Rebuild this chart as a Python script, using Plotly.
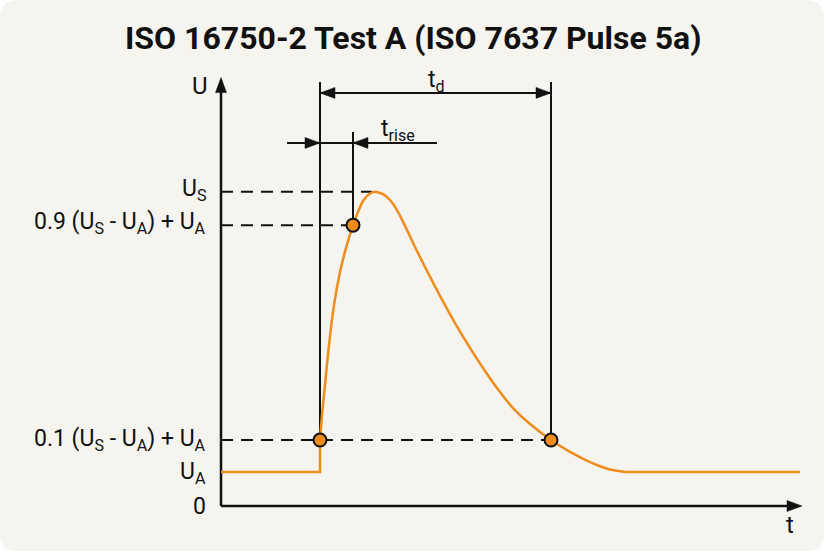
import plotly.graph_objects as go

# ---------------- data (schematic units: t arbitrary, U arbitrary) ----------------
U_ZERO = 0.0
U_A = 1.0
U_10 = 1.94          # 0.1 (U_S - U_A) + U_A
U_90 = 8.26          # 0.9 (U_S - U_A) + U_A
U_S = 9.24
T_START = 9.9        # pulse start (10 % point)
T_90 = 13.2          # 90 % point on rising edge
T_PEAK = 15.4
T_END = 33.0         # 10 % point on falling edge
T_SETTLE = 40.4
T_MAX = 57.9
U_MAX = 12.6

base_left_t = [0.0, 9.9, 9.9]
base_left_u = [1.0, 1.0, 1.94]

pulse_t = [9.9, 10.1, 10.4, 10.8, 11.3, 11.9, 12.5, 13.2, 13.7, 14.2, 14.8, 15.4,
           16.2, 16.9, 17.7, 18.5, 19.4, 20.4, 21.9, 23.4, 24.9, 26.4, 27.9, 29.2,
           30.9, 33.0, 34.9, 36.9, 38.7, 40.4]
pulse_u = [1.94, 2.68, 3.56, 4.74, 5.91, 6.88, 7.59, 8.26, 8.65, 8.97, 9.17, 9.24,
           9.17, 9.0, 8.65, 8.18, 7.62, 7.03, 6.18, 5.38, 4.65, 3.97, 3.35, 2.88,
           2.41, 1.94, 1.59, 1.29, 1.09, 1.0]

base_right_t = [40.4, 57.9]
base_right_u = [1.0, 1.0]

marker_t = [T_START, T_90, T_END]
marker_u = [U_10, U_90, U_10]

level_values = [U_S, U_90, U_10, U_A, U_ZERO]
level_labels = ["U<sub>S</sub>",
                "0.9 (U<sub>S</sub> - U<sub>A</sub>) + U<sub>A</sub>",
                "0.1 (U<sub>S</sub> - U<sub>A</sub>) + U<sub>A</sub>",
                "U<sub>A</sub>",
                "0"]
dashed_levels = [U_S, U_90, U_10]
dashed_ends = [15.1, T_90, T_END]

TD_LEVEL = 12.15
TRISE_LEVEL = 10.68
TRISE_LEFT = 6.6
TRISE_RIGHT = 21.6
VLINE_TOP_OUTER = 12.47
VLINE_TOP_RISE = 11.0

TITLE = "ISO 16750-2 Test A (ISO 7637 Pulse 5a)"

# ---------------- layout helpers ----------------
W, H = 826, 553
PX_T = 10.0   # pixels per t unit
PX_U = 34.0   # pixels per U unit
X0, Y0 = 221, 506
x_range = [-X0 / PX_T, (W - X0) / PX_T]
y_range = [-(H - Y0) / PX_U, Y0 / PX_U]

ORANGE = "#EE8C1C"
BLACK = "#111111"
CARD = "#F6F4EF"
FONT = "Roboto"

fig = go.Figure()


def line(ts, us, width=2.0, dash=None, color=BLACK):
    fig.add_trace(go.Scatter(x=ts, y=us, mode="lines",
                             line=dict(color=color, width=width, dash=dash),
                             hoverinfo="skip", showlegend=False))


def head(t, u, d, L=15, Wd=11):
    lt, wu = L / PX_T, Wd / 2 / PX_U
    lu, wt = L / PX_U, Wd / 2 / PX_T
    if d == "right":
        xs, ys = [t, t - lt, t - lt, t], [u, u + wu, u - wu, u]
    elif d == "left":
        xs, ys = [t, t + lt, t + lt, t], [u, u + wu, u - wu, u]
    else:  # up
        xs, ys = [t, t - wt, t + wt, t], [u, u - lu, u - lu, u]
    fig.add_trace(go.Scatter(x=xs, y=ys, mode="lines", fill="toself",
                             fillcolor=BLACK, line=dict(color=BLACK, width=0.5),
                             hoverinfo="skip", showlegend=False))


# dashed level lines
for lv, te in zip(dashed_levels, dashed_ends):
    line([0, te], [lv, lv], width=2, dash="12px,8px")

# vertical marker lines
line([T_START, T_START], [U_10, VLINE_TOP_OUTER])
line([T_END, T_END], [U_10, VLINE_TOP_OUTER])
line([T_90, T_90], [U_90, VLINE_TOP_RISE])

# t_d dimension
line([T_START, T_END], [TD_LEVEL, TD_LEVEL])
head(T_START, TD_LEVEL, "left")
head(T_END, TD_LEVEL, "right")

# t_rise dimension
line([TRISE_LEFT, TRISE_RIGHT], [TRISE_LEVEL, TRISE_LEVEL])
head(T_START, TRISE_LEVEL, "right")
head(T_90, TRISE_LEVEL, "left")

# axes
line([0, 0], [0, U_MAX - 0.3], width=2.5)
line([0, T_MAX - 1.0], [0, 0], width=2.5)
head(0, U_MAX, "up")
head(T_MAX + 0.2, 0, "right")

# curve
line(base_left_t, base_left_u, width=2.5, color=ORANGE)
fig.add_trace(go.Scatter(x=pulse_t, y=pulse_u, mode="lines",
                         line=dict(color=ORANGE, width=2.5, shape="spline", smoothing=0.6),
                         hoverinfo="skip", showlegend=False))
line(base_right_t, base_right_u, width=2.5, color=ORANGE)

# markers
fig.add_trace(go.Scatter(x=marker_t, y=marker_u, mode="markers",
                         marker=dict(size=13, color=ORANGE, line=dict(color=BLACK, width=2)),
                         hoverinfo="skip", showlegend=False))

annotations = []
label_shift = [2, 2, 0, -1, 0]
for lv, lab, sh in zip(level_values, level_labels, label_shift):
    annotations.append(dict(x=-1.3, y=lv, text=lab, showarrow=False, xanchor="right",
                            yanchor="middle", yshift=sh,
                            font=dict(family=FONT, size=23, color=BLACK)))
annotations += [
    dict(x=-2.1, y=12.35, text="U", showarrow=False, xanchor="center", yanchor="middle",
         font=dict(family=FONT, size=24, color=BLACK)),
    dict(x=56.9, y=-0.55, text="t", showarrow=False, xanchor="center", yanchor="middle",
         font=dict(family=FONT, size=24, color=BLACK)),
    dict(x=21.5, y=12.5, text="t<sub>d</sub>", showarrow=False, xanchor="center",
         yanchor="middle", font=dict(family=FONT, size=23, color=BLACK)),
    dict(x=17.7, y=11.05, text="t<sub>rise</sub>", showarrow=False, xanchor="center",
         yanchor="middle", font=dict(family=FONT, size=23, color=BLACK)),
    dict(x=0.5, y=1 - 38 / H, xref="paper", yref="paper", text="<b>" + TITLE + "</b>",
         showarrow=False, xanchor="center", yanchor="middle",
         font=dict(family=FONT, size=32, color=BLACK)),
]

# rounded card background (paper coordinates)
rx, ry = 18 / W, 18 / H
x1, y1 = 1 - 2 / W, 2 / H
card_path = (f"M {rx},1 L {x1 - rx},1 Q {x1},1 {x1},{1 - ry} "
             f"L {x1},{y1 + ry} Q {x1},{y1} {x1 - rx},{y1} "
             f"L {rx},{y1} Q 0,{y1} 0,{y1 + ry} L 0,{1 - ry} Q 0,1 {rx},1 Z")

fig.update_layout(
    width=W, height=H, autosize=False,
    margin=dict(l=0, r=0, t=0, b=0, pad=0),
    paper_bgcolor="white", plot_bgcolor="rgba(0,0,0,0)",
    xaxis=dict(range=x_range, visible=False, showgrid=False, zeroline=False, fixedrange=True),
    yaxis=dict(range=y_range, visible=False, showgrid=False, zeroline=False, fixedrange=True),
    shapes=[dict(type="path", path=card_path, xref="paper", yref="paper",
                 fillcolor=CARD, line=dict(width=0), layer="below")],
    annotations=annotations,
    showlegend=False,
)

fig.write_html("out.html", config={"displayModeBar": False})
